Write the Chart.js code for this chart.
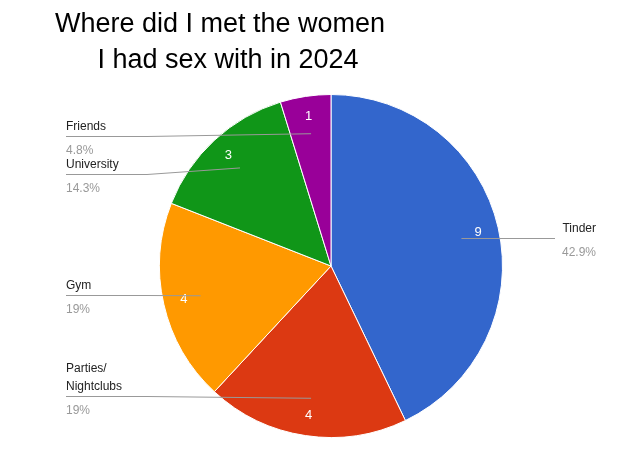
<!DOCTYPE html>
<html lang="en">
<head>
  <meta charset="UTF-8">
  <title>Where did I met the women</title>
  <script src="https://cdn.jsdelivr.net/npm/chart.js"></script>
  <style>
    body { margin: 0; background: #fff; }
    #wrap { width: 640px; height: 454px; }
  </style>
</head>
<body>
  <div id="wrap"><canvas id="pie"></canvas></div>

  <script>
    // data
    const categories = ['Tinder', 'Parties/\nNightclubs', 'Gym', 'University', 'Friends'];
    const counts = [9, 4, 4, 3, 1];
    const colors = ['#3366cc', '#dc3912', '#ff9900', '#109618', '#990099'];

    // where each outside label sits: side and text y
    const labelSpots = [
      { side: 'right', y: 232 },
      { side: 'left', y: 372 },
      { side: 'left', y: 289 },
      { side: 'left', y: 168 },
      { side: 'left', y: 130 }
    ];

    const total = counts.reduce((a, b) => a + b, 0);

    const labelPlugin = {
      id: 'labels',
      afterDatasetsDraw(chart) {
        const ctx = chart.ctx;
        const arcs = chart.getDatasetMeta(0).data;
        ctx.save();
        // title
        ctx.fillStyle = '#000';
        ctx.font = '27px Arial, "Liberation Sans", sans-serif';
        ctx.textAlign = 'center';
        ctx.textBaseline = 'alphabetic';
        ctx.fillText('Where did I met the women', 220, 32);
        ctx.fillText('I had sex with in 2024', 228, 68);

        arcs.forEach((arc, i) => {
          const mid = (arc.startAngle + arc.endAngle) / 2;
          const r = arc.outerRadius;
          const ix = arc.x + Math.cos(mid) * r * 0.88;
          const iy = arc.y + Math.sin(mid) * r * 0.88;
          // value inside slice
          ctx.fillStyle = '#fff';
          ctx.font = '13px Arial, "Liberation Sans", sans-serif';
          ctx.textAlign = 'center';
          ctx.textBaseline = 'middle';
          ctx.fillText(String(counts[i]), ix, iy);

          const spot = labelSpots[i];
          const lines = categories[i].split('\n');
          const pct = (Math.round(counts[i] / total * 1000) / 10) + '%';
          const lineY = spot.y + (lines.length - 1) * 18 + 6;
          const ex = arc.x + Math.cos(mid) * r * 0.78;
          const ey = arc.y + Math.sin(mid) * r * 0.78;

          ctx.strokeStyle = '#999';
          ctx.lineWidth = 1;
          ctx.beginPath();
          ctx.font = '12px Arial, "Liberation Sans", sans-serif';
          if (spot.side === 'left') {
            ctx.moveTo(66, lineY + 0.5);
            ctx.lineTo(Math.min(ex, 147), lineY + 0.5);
            ctx.lineTo(ex, ey);
            ctx.stroke();
            ctx.textAlign = 'left';
            ctx.textBaseline = 'alphabetic';
            ctx.fillStyle = '#222';
            lines.forEach((t, k) => ctx.fillText(t, 66, spot.y + k * 18));
            ctx.fillStyle = '#999';
            ctx.fillText(pct, 66, lineY + 18);
          } else {
            ctx.moveTo(ex, lineY + 0.5);
            ctx.lineTo(555, lineY + 0.5);
            ctx.stroke();
            ctx.textAlign = 'right';
            ctx.textBaseline = 'alphabetic';
            ctx.fillStyle = '#222';
            lines.forEach((t, k) => ctx.fillText(t, 596, spot.y + k * 18));
            ctx.fillStyle = '#999';
            ctx.fillText(pct, 596, lineY + 18);
          }
        });
        ctx.restore();
      }
    };

    new Chart(document.getElementById('pie'), {
      type: 'pie',
      data: {
        labels: categories,
        datasets: [{
          data: counts,
          backgroundColor: colors,
          borderColor: '#fff',
          borderWidth: 1
        }]
      },
      options: {
        responsive: true,
        maintainAspectRatio: false,
        animation: false,
        layout: { padding: { top: 94, bottom: 16, left: 150, right: 128 } },
        plugins: {
          legend: { display: false },
          tooltip: { enabled: false },
          title: { display: false }
        }
      },
      plugins: [labelPlugin]
    });
  </script>
</body>
</html>
